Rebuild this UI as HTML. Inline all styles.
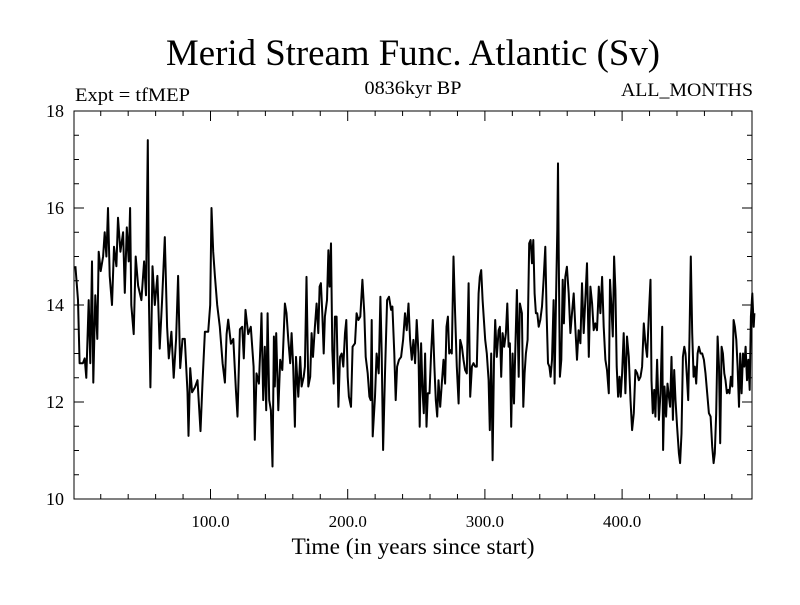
<!DOCTYPE html>
<html><head><meta charset="utf-8"><style>
body{margin:0;background:#fff;}
svg text{font-family:"Liberation Serif",serif;fill:#000;}
</style></head><body>
<svg id="chart" width="800" height="600" xmlns="http://www.w3.org/2000/svg">
<rect width="800" height="600" fill="#fff"/>
<text x="413" y="65" font-size="37" text-anchor="middle" textLength="494" lengthAdjust="spacingAndGlyphs">Merid Stream Func. Atlantic (Sv)</text>
<text x="75" y="101" font-size="19" textLength="115" lengthAdjust="spacingAndGlyphs">Expt = tfMEP</text>
<text x="413" y="94" font-size="19" text-anchor="middle" textLength="97" lengthAdjust="spacingAndGlyphs">0836kyr BP</text>
<text x="753" y="96" font-size="19" text-anchor="end" textLength="132" lengthAdjust="spacingAndGlyphs">ALL_MONTHS</text>
<text x="413" y="554" font-size="23" text-anchor="middle" textLength="243" lengthAdjust="spacingAndGlyphs">Time (in years since start)</text>
<g id="axes"></g>
<path id="series" fill="none" stroke="#000" stroke-width="2" stroke-linejoin="round"/>
<rect x="74" y="111" width="678" height="388" fill="none" stroke="#000" stroke-width="1"/>
</svg>
<script>
const years=[1.5,3.4,4.6,7,8.3,9.5,11.2,12.4,13.6,14.6,16,17.5,18.5,20,21.7,22.9,24.1,25.3,26.5,28.2,29.7,31.4,32.6,34.3,36.3,37.5,39,40.4,41.4,42.3,44,45.5,47.2,49.6,51.6,53,54.3,55.2,56.2,57.7,59.4,61.3,63,64.7,66.7,68.4,69.6,71.5,73.2,74.9,76.4,77.9,79.6,81.3,83.2,84,85.2,86.6,88.6,90.5,92.7,94.2,95.9,98.3,99.8,100.7,102,103.2,104.9,106.8,108.8,110.5,111.7,112.9,114.9,116.6,118.5,119.7,121.4,123.1,124.3,125.5,127.5,129.4,
131.4,132.3,133.5,135.3,136.7,137.2,138.4,139.6,140.6,141.6,142.8,144,145.2,146.2,146.9,147.9,149.4,150.8,152.3,154.2,155.4,156.7,158.1,159.1,160.3,161.5,162.3,164,165.4,166.4,167.9,168.8,170,171.3,172.7,173.7,174.7,176.1,177.3,178.6,179.5,180.5,181.5,182.5,183.4,184.9,185.9,186.8,187.8,188.8,189.8,190.7,191.9,193.2,194.4,195.6,196.8,198,199,200,200.9,202.4,203.6,205.3,206.5,207.8,209.2,210.7,212.1,213.1,214.6,215.8,216.8,217.5,218.2,219.9,221.1,222.6,223.8,224.8,225.8,227.2,228.7,230.1,231.6,232.6,234,235,236,237.4,238.9,240.4,241.8,243,244.3,245.5,246.7,247.9,249.1,250.3,251.6,252.5,253.5,
254.5,255.5,256.4,257.4,258.4,259.6,260.8,262,263.2,264.2,265.2,266.2,267.4,268.6,269.8,271,272,273,274,274.9,275.9,277.1,278.3,279.5,280.8,282,283.2,284.4,285.6,286.8,288.1,289.3,290.5,291.7,292.9,294.1,295.4,296.3,297.3,298.3,299.3,300.2,301.4,302.7,303.6,304.6,305.6,306.6,307.5,308.7,310,310.9,311.9,312.9,314.1,315.3,316.3,317.3,318.2,319.2,320.2,321.2,322.1,323.3,324.6,325.5,327,328,328.9,329.9,331.1,332.3,333.3,334.3,335.3,336.2,337.2,338.2,339.2,340.4,341.6,342.8,344,345,346,347,347.9,348.9,350.1,350.8,351.8,352.8,353.3,353.8,354.7,355.7,356.7,357.6,358.6,359.8,361.1,362.3,363.5,364.7,365.9,367.1,368.3,369.6,370.8,372,373.2,374.4,375.7,376.9,378.1,
379.3,380.5,381.7,383,384.2,385.4,386.6,387.8,389,390.3,391.2,392.2,393.2,394.2,395.1,396.1,397.1,398.1,399,400,401.2,402.4,403.6,404.9,406.1,407.3,408.5,409.7,411,412.2,413.4,414.6,415.8,417,418.2,419.5,420.7,421.4,422.4,423.4,424.3,425.5,426.8,428,429.2,429.9,430.9,432.1,433.1,434.1,435,436,437,438,438.9,440.1,441.4,442.3,443.3,444.3,445.3,446.2,447.2,448.2,449.1,450.1,451.1,452.1,453,454,455,456,457.2,458.4,459.6,460.8,462,463.3,464.5,465.7,466.7,467.6,468.6,469.6,470.6,471.5,472.5,473.5,474.5,475.4,476.4,477.4,478.3,479.3,480.3,481.3,482.2,483.2,484.2,485.2,486.1,487.1,488.1,489.1,490,491,492,493,493.9,494.9,495.9,496.4];
const values=[14.8,14.1,12.8,12.8,12.9,12.5,14.1,12.8,14.9,12.4,14.2,13.3,15.1,14.7,15.0,15.5,15.0,16.0,14.6,14.0,15.2,14.8,15.8,15.1,15.5,14.25,15.6,14.9,16.0,14.0,13.4,15.0,14.4,14.1,14.9,14.2,17.4,14.0,12.3,14.8,14.0,14.6,13.1,14.1,15.4,13.55,12.9,13.45,12.5,13.3,14.6,12.7,13.3,13.3,12.2,11.3,12.7,12.2,12.3,12.45,11.4,12.4,13.45,13.45,14.0,16.0,15.1,14.6,14.0,13.55,12.8,12.4,13.4,13.7,13.2,13.3,12.25,11.7,13.5,13.55,12.9,13.9,13.4,13.55,
12.73,11.22,12.59,12.38,13.42,13.83,12.04,13.14,11.83,13.83,12.04,11.83,10.67,13.35,12.32,13.42,11.83,12.87,12.66,14.03,13.83,13.28,12.80,13.42,12.73,11.49,12.93,12.11,12.93,12.32,12.52,12.73,14.58,12.32,12.52,13.42,12.93,13.55,14.03,13.42,14.38,14.45,13.83,13.00,13.76,14.10,15.13,14.38,15.27,13.07,12.38,13.76,13.76,11.90,12.93,13.00,12.73,13.42,13.69,12.52,12.11,11.90,13.14,13.21,13.83,13.69,13.76,14.52,13.83,12.93,12.59,12.11,12.04,13.69,11.29,12.11,13.00,12.59,14.17,13.00,11.01,12.59,14.10,14.17,13.90,13.97,13.00,12.04,12.73,12.87,12.93,13.28,13.83,13.48,14.03,13.28,12.87,13.28,12.80,13.69,13.00,11.49,13.21,
12.25,11.77,13.00,11.49,12.18,12.18,13.00,13.69,12.73,12.04,11.70,12.45,11.90,12.38,12.87,12.38,13.55,13.76,13.00,13.07,13.00,15.00,13.83,12.73,11.97,13.28,13.14,12.87,12.66,12.59,14.45,12.11,12.73,12.80,12.73,12.73,14.24,14.58,14.72,14.10,13.69,13.28,13.00,12.45,11.42,13.00,10.80,12.87,13.69,12.93,13.48,13.55,12.52,13.42,13.14,13.42,14.03,13.14,13.21,11.49,13.00,11.97,13.00,14.31,12.52,14.03,13.83,11.90,12.59,13.00,13.28,15.27,15.34,14.86,15.34,14.24,13.83,13.83,13.55,13.69,13.97,14.52,15.20,13.83,12.80,12.73,12.52,12.87,14.10,12.38,14.10,15.55,16.92,15.13,12.52,12.87,14.52,13.62,14.58,14.79,14.24,13.42,13.83,14.24,13.55,12.87,13.48,13.21,14.45,13.42,14.10,14.86,12.93,14.38,14.03,
13.48,13.62,13.48,14.38,13.83,14.58,13.55,12.87,12.66,12.18,14.52,13.97,13.35,15.00,14.31,12.73,12.11,12.52,12.11,12.59,13.42,12.18,13.35,12.93,12.04,11.42,11.77,12.66,12.59,12.45,12.52,12.73,13.62,13.21,12.93,13.83,14.52,12.45,11.77,12.25,11.70,12.87,11.63,12.18,13.55,11.01,12.32,11.70,12.38,12.11,11.90,12.93,11.63,12.66,12.04,11.49,10.94,10.74,11.35,12.93,13.14,13.00,12.52,12.04,13.35,15.00,13.42,12.52,12.73,12.38,13.00,13.14,13.00,13.00,12.87,12.59,12.18,11.77,11.70,11.08,10.74,10.94,11.77,13.35,12.73,11.15,13.14,13.00,12.59,12.45,12.18,12.25,12.18,12.52,12.32,13.69,13.55,13.28,12.73,11.90,13.00,12.18,13.00,12.73,13.14,12.45,12.87,12.25,13.76,14.24,13.55,13.83];
const xTickValues=[100,200,300,400];
const xTickLabels=["100.0","200.0","300.0","400.0"];
const yTickValues=[10,12,14,16,18];
const yTickLabels=["10","12","14","16","18"];

const L=74,R=752,T=111,B=499;
const Y0=10,Y1=18;
function xs(v){return 73.3+v*1.372;}
function ys(v){return B-(v-Y0)/(Y1-Y0)*(B-T);}
const NS="http://www.w3.org/2000/svg";
const ax=document.getElementById('axes');
function line(x1,y1,x2,y2,name){
  const l=document.createElementNS(NS,'line');
  l.setAttribute('x1',x1);l.setAttribute('y1',y1);l.setAttribute('x2',x2);l.setAttribute('y2',y2);
  l.setAttribute('stroke','#000');l.setAttribute('stroke-width','1');
  
  
  ax.appendChild(l);
}
function txt(x,y,s,anchor,size,name){
  const t=document.createElementNS(NS,'text');
  t.setAttribute('x',x);t.setAttribute('y',y);t.setAttribute('font-size',size);t.setAttribute('text-anchor',anchor);
  t.textContent=s;
  
  
  ax.appendChild(t);
}
for(let v=20;v<=480;v+=20){
  const x=xs(v);const major=v%100===0;const len=major?10:5;
  line(x,B,x,B-len,'x-tick');
  line(x,T,x,T+len,'x-tick-top');
}
xTickValues.forEach((v,i)=>txt(xs(v),527,xTickLabels[i],'middle','17','x-tick-label'));
for(let v=10;v<=18.001;v+=0.5){
  const y=ys(v);const major=Math.abs(v-Math.round(v/2)*2)<1e-6;const len=major?10:5;
  line(L,y,L+len,y,'y-tick');
  line(R,y,R-len,y,'y-tick-right');
}
yTickValues.forEach((v,i)=>txt(64,ys(v)+6,yTickLabels[i],'end','18','y-tick-label'));
let d='';
years.forEach((yr,i)=>{d+=(i?'L':'M')+xs(yr).toFixed(1)+','+ys(values[i]).toFixed(1);});
document.getElementById('series').setAttribute('d',d);
</script>
</body></html>
